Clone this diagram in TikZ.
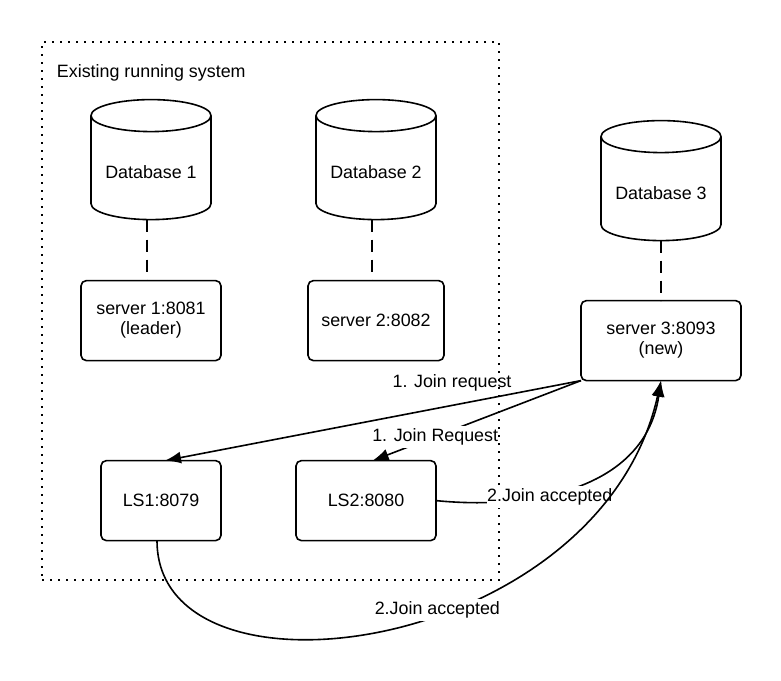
\documentclass[tikz,border=0pt]{standalone}
\usepackage{fontspec}
\setmainfont{Liberation Sans}
\usetikzlibrary{positioning,arrows.meta,shapes.geometric}
\newcommand{\dbname}[1]{\raisebox{-3pt}[\height][\depth]{#1}}

\begin{document}
\begin{tikzpicture}[
        x=0.75pt, y=-0.75pt,
        every node/.style={font=\fontsize{13.4}{15}\selectfont},
        srvbox/.style={draw, rounded corners=4pt, line width=1.2pt, minimum height=60pt,
                    align=center, outer sep=0pt, fill=white},
        dbcyl/.style={draw, cylinder, shape border rotate=90, aspect=0.35, line width=1.2pt,
                    minimum width=90pt, minimum height=90pt, inner sep=0pt, outer sep=0pt},
        sysbox/.style={draw, line width=1.5pt, dash pattern=on 1.5pt off 4.5pt,
                    minimum width=342.75pt, minimum height=403.5pt, outer sep=0pt},
        link/.style={dash pattern=on 9pt off 6pt, line width=1.2pt},
        msg/.style={-{Latex[length=12pt,width=9pt]}, line width=1.2pt},
        lbl/.style={fill=white, inner xsep=0pt, inner ysep=2pt},
    ]
        \useasboundingbox (0,0) rectangle (781,681);
        \node[sysbox] (sys) at (270.5,311) {};
        \node[below right=16.5pt and 11pt of sys.north west, inner sep=0pt] (title) {Existing running system};

        \node[dbcyl] (db1) at (151,168) {\dbname{Database 1}};
        \node[dbcyl] (db2) at (376,168) {\dbname{Database 2}};
        \node[dbcyl] (db3) at (661,189) {\dbname{Database 3}};

        \node[srvbox, minimum width=105pt, below=45.75pt of db1] (srv1) {server 1:8081\\(leader)};
        \node[srvbox, minimum width=102pt, below=45.75pt of db2] (srv2) {server 2:8082};
        \node[srvbox, minimum width=120pt, below=45pt of db3] (srv3) {server 3:8093\\(new)};

        \node[srvbox, minimum width=90pt, below=75pt of srv1, xshift=7.5pt] (ls1) {LS1:8079};
        \node[srvbox, minimum width=105pt, right=56.25pt of ls1] (ls2) {LS2:8080};

        \draw[link] ([xshift=-3pt]db1.south) -- ([xshift=-3pt]srv1.north);
        \draw[link] ([xshift=-3pt]db2.south) -- ([xshift=-3pt]srv2.north);
        \draw[link] (db3.south) -- (srv3.north);

        \draw[msg] (srv3.south west) -- node[pos=0.31, above=10pt, inner sep=0pt] {1. Join request} ([xshift=3pt]ls1.north);
        \draw[msg] (srv3.south west) -- node[pos=0.70, lbl] {1. Join Request} ([xshift=5pt]ls2.north);
        \draw[msg] (ls2.east) .. controls (530,510) and (645,490) .. node[pos=0.39, lbl, xshift=1pt, yshift=-1.5pt] {2.Join accepted} (srv3.south);
        \draw[msg] ([xshift=-3pt]ls1.south) .. controls (157,715) and (600,655) .. node[pos=0.57, lbl, xshift=1pt, yshift=3pt] {2.Join accepted} (srv3.south);
    \end{tikzpicture}
\end{document}
